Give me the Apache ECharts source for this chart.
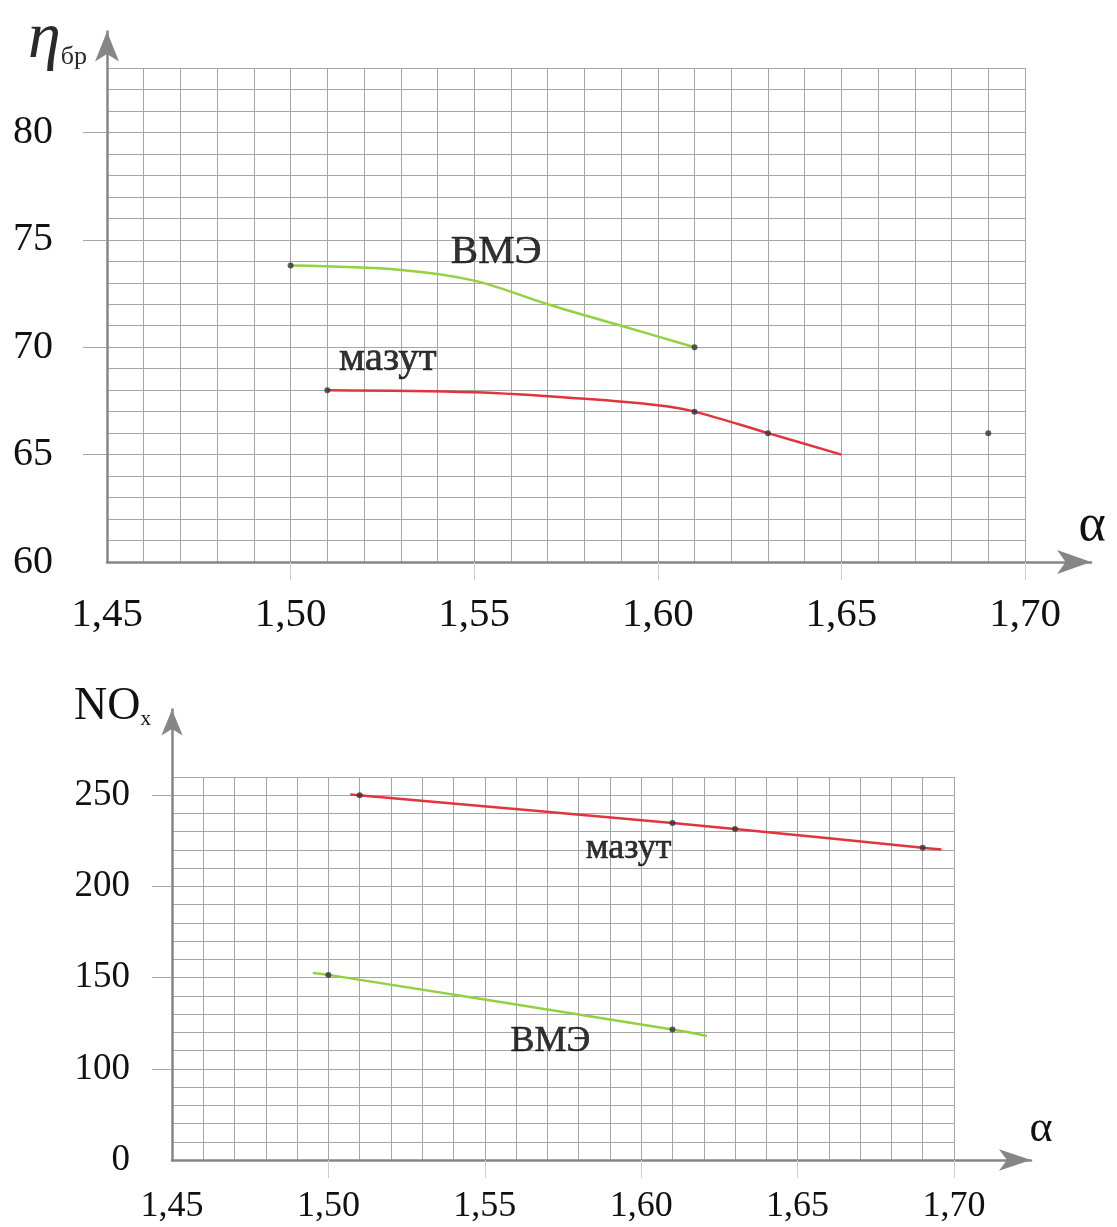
<!DOCTYPE html>
<html><head><meta charset="utf-8">
<script src="https://cdn.jsdelivr.net/npm/echarts@6/dist/echarts.min.js"></script>
<style>html,body{margin:0;padding:0;background:#fff}#c{width:1117px;height:1227px}</style>
</head><body><div id="c"></div>
<script>
// ---------- data ----------
const xTicks = [1.45, 1.50, 1.55, 1.60, 1.65, 1.70];
const topYTicks = [60, 65, 70, 75, 80];
const botYTicks = [50, 100, 150, 200, 250];   // lowest tick printed as "0" (broken axis in the original)

// upper chart: η_бр vs α
const topVmeX = [1.50, 1.53, 1.55, 1.57, 1.59, 1.61];
const topVmeY = [73.8, 73.6, 73.1, 72.0, 71.0, 70.0];
const topVmePtsX = [1.50, 1.61];
const topVmePtsY = [73.8, 70.0];
const topMazX = [1.51, 1.55, 1.58, 1.60, 1.61, 1.63, 1.65];
const topMazY = [68.0, 67.9, 67.6, 67.3, 67.0, 66.0, 65.0];
const topMazPtsX = [1.51, 1.61, 1.63, 1.69];
const topMazPtsY = [68.0, 67.0, 66.0, 66.0];
const topLabelText = ['ВМЭ', 'мазут'];
const topLabelX = [1.556, 1.5265];
const topLabelY = [74.43, 69.45];

// lower chart: NOx vs α
const botMazX = [1.507, 1.61, 1.63, 1.69, 1.696];
const botMazY = [250.4, 234.8, 231.5, 221.2, 220.2];
const botMazPtsX = [1.51, 1.61, 1.63, 1.69];
const botMazPtsY = [250.0, 234.8, 231.5, 221.2];
const botVmeX = [1.495, 1.50, 1.61, 1.621];
const botVmeY = [152.5, 151.5, 121.5, 118.0];
const botVmePtsX = [1.50, 1.61];
const botVmePtsY = [151.5, 121.5];
const botLabelText = ['мазут', 'ВМЭ'];
const botLabelX = [1.596, 1.571];
const botLabelY = [220.8, 115.0];

// ---------- helpers ----------
const zip = (xs, ys) => xs.map((x, i) => [x, ys[i]]);
const serif = "'Liberation Serif','Times New Roman',serif";
const GRID = '#a6a6a6';
const AXIS = '#868686';
const TICK = '#cdcdcd';
const TXT = '#111111';
const RED = '#e0343e';
const GREEN = '#93d143';
const fmtX = v => Number(v).toFixed(2).replace('.', ',');

// layout of the two panels (pixel boxes of the squared plot area) and frame extents
const P = [
  {l: 107, r: 1025, t: 68, b: 562, xmin: 1.45, xmax: 1.70, ymin: 60, ymax: 83, yint: 1, fxMax: 1.718, fyMax: 84.7},
  {l: 172, r: 954, t: 777, b: 1160, xmin: 1.45, xmax: 1.70, ymin: 50, ymax: 260, yint: 10, fxMax: 1.7246, fyMax: 297}
];

// grid order: 0 top plot, 1 top frame, 2 bottom plot, 3 bottom frame (axis index == grid index)
const grids = [], xAxes = [], yAxes = [];
function plotAxes(p, gi) {
  xAxes.push({type: 'value', gridIndex: gi, min: p.xmin, max: p.xmax, interval: 0.01,
    axisLine: {show: false}, axisTick: {show: false}, axisLabel: {show: false},
    splitLine: {show: true, lineStyle: {color: GRID, width: 1}}});
  yAxes.push({type: 'value', gridIndex: gi, min: p.ymin, max: p.ymax, interval: p.yint,
    axisLine: {show: false}, axisTick: {show: false}, axisLabel: {show: false},
    splitLine: {show: true, lineStyle: {color: GRID, width: 1}}});
}
P.forEach(p => {
  const w = p.r - p.l, h = p.b - p.t;
  const fw = w * (p.fxMax - p.xmin) / (p.xmax - p.xmin);
  const fh = h * (p.fyMax - p.ymin) / (p.ymax - p.ymin);
  grids.push({left: p.l, top: p.t, width: w, height: h, outerBoundsMode: 'none'});
  grids.push({left: p.l, top: p.b - fh, width: fw, height: fh, outerBoundsMode: 'none'});
});

// ---- top panel ----
plotAxes(P[0], 0);
xAxes.push({type: 'value', gridIndex: 1, min: 1.45, max: P[0].fxMax,
  axisLine: {show: true, onZero: false, symbol: ['none', 'arrow'], symbolSize: [18, 34], lineStyle: {color: AXIS, width: 2.5}},
  axisTick: {show: true, customValues: xTicks.slice(1), length: 18, lineStyle: {color: TICK, width: 1}},
  axisLabel: {show: true, customValues: xTicks, formatter: fmtX, fontSize: 41, fontFamily: serif, color: TXT, margin: 33},
  splitLine: {show: false},
  name: 'α', nameLocation: 'end', nameGap: 1,
  nameTextStyle: {fontSize: 52, fontFamily: serif, color: TXT, align: 'center', verticalAlign: 'bottom', padding: [0, 0, 10, 0]}
});
yAxes.push({type: 'value', gridIndex: 1, min: 60, max: P[0].fyMax,
  axisLine: {show: true, onZero: false, symbol: ['none', 'arrow'], symbolSize: [18, 30], lineStyle: {color: AXIS, width: 2.5}},
  axisTick: {show: true, customValues: topYTicks.slice(1), length: 24, lineStyle: {color: GRID, width: 1}},
  axisLabel: {show: true, customValues: topYTicks, fontSize: 40, fontFamily: serif, color: TXT, margin: 54},
  splitLine: {show: false},
  name: '{a|η}{b|бр}', nameLocation: 'end', nameGap: -8,
  nameTextStyle: {align: 'right', verticalAlign: 'middle', padding: [0, 20, 0, 0],
    rich: {a: {fontSize: 66, fontStyle: 'italic', fontFamily: serif, color: '#2a2a2a'},
           b: {fontSize: 26, fontFamily: serif, color: '#2a2a2a', verticalAlign: 'bottom', padding: [0, 0, 2, 0]}}}
});

// ---- bottom panel ----
plotAxes(P[1], 2);
xAxes.push({type: 'value', gridIndex: 3, min: 1.45, max: P[1].fxMax,
  axisLine: {show: true, onZero: false, symbol: ['none', 'arrow'], symbolSize: [16, 32], lineStyle: {color: AXIS, width: 2.5}},
  axisTick: {show: true, customValues: xTicks.slice(1), length: 18, lineStyle: {color: TICK, width: 1}},
  axisLabel: {show: true, customValues: xTicks, formatter: fmtX, fontSize: 36, fontFamily: serif, color: TXT, margin: 29},
  splitLine: {show: false},
  name: 'α', nameLocation: 'end', nameGap: 10,
  nameTextStyle: {fontSize: 44, fontFamily: serif, color: TXT, align: 'center', verticalAlign: 'bottom', padding: [0, 0, 9, 0]}
});
yAxes.push({type: 'value', gridIndex: 3, min: 50, max: P[1].fyMax,
  axisLine: {show: true, onZero: false, symbol: ['none', 'arrow'], symbolSize: [16, 26], lineStyle: {color: AXIS, width: 2.5}},
  axisTick: {show: true, customValues: botYTicks.slice(1), length: 20, lineStyle: {color: GRID, width: 1}},
  axisLabel: {show: true, customValues: botYTicks, formatter: v => (v === botYTicks[0] ? '0' : String(v)),
    fontSize: 37, fontFamily: serif, color: TXT, margin: 42},
  splitLine: {show: false},
  name: '{a|NO}{b|x}', nameLocation: 'end', nameGap: 3,
  nameTextStyle: {align: 'right', verticalAlign: 'middle', padding: [0, 21, 0, 0],
    rich: {a: {fontSize: 46, fontFamily: serif, color: TXT},
           b: {fontSize: 21, fontFamily: serif, color: TXT, verticalAlign: 'bottom'}}}
});

function lineS(ai, xs, ys, color) {
  return {type: 'line', xAxisIndex: ai, yAxisIndex: ai, data: zip(xs, ys), smooth: 0.35,
    showSymbol: false, silent: true, z: 3, lineStyle: {color: color, width: 2.5}};
}
function ptsS(ai, xs, ys) {
  return {type: 'scatter', xAxisIndex: ai, yAxisIndex: ai, data: zip(xs, ys), symbol: 'circle',
    symbolSize: 6, silent: true, z: 4, itemStyle: {color: '#333'}};
}
function txtS(ai, names, xs, ys, size) {
  return {type: 'scatter', xAxisIndex: ai, yAxisIndex: ai, silent: true, z: 5, symbolSize: 1,
    itemStyle: {color: 'rgba(0,0,0,0)'},
    data: names.map((n, i) => ({name: n, value: [xs[i], ys[i]]})),
    label: {show: true, position: 'inside', formatter: p => p.name, fontSize: size, fontFamily: serif,
      color: '#000', textBorderColor: '#000', textBorderWidth: 0.6}};
}

const series = [
  lineS(0, topVmeX, topVmeY, GREEN),
  lineS(0, topMazX, topMazY, RED),
  ptsS(0, topVmePtsX, topVmePtsY),
  ptsS(0, topMazPtsX, topMazPtsY),
  txtS(0, topLabelText, topLabelX, topLabelY, 41),
  lineS(2, botMazX, botMazY, RED),
  lineS(2, botVmeX, botVmeY, GREEN),
  ptsS(2, botMazPtsX, botMazPtsY),
  ptsS(2, botVmePtsX, botVmePtsY),
  txtS(2, botLabelText, botLabelX, botLabelY, 36)
];

const chart = echarts.init(document.getElementById('c'), null, {renderer: 'canvas'});
chart.setOption({
  backgroundColor: '#fff',
  animation: false,
  grid: grids,
  xAxis: xAxes,
  yAxis: yAxes,
  series: series
});
</script>
</body></html>
